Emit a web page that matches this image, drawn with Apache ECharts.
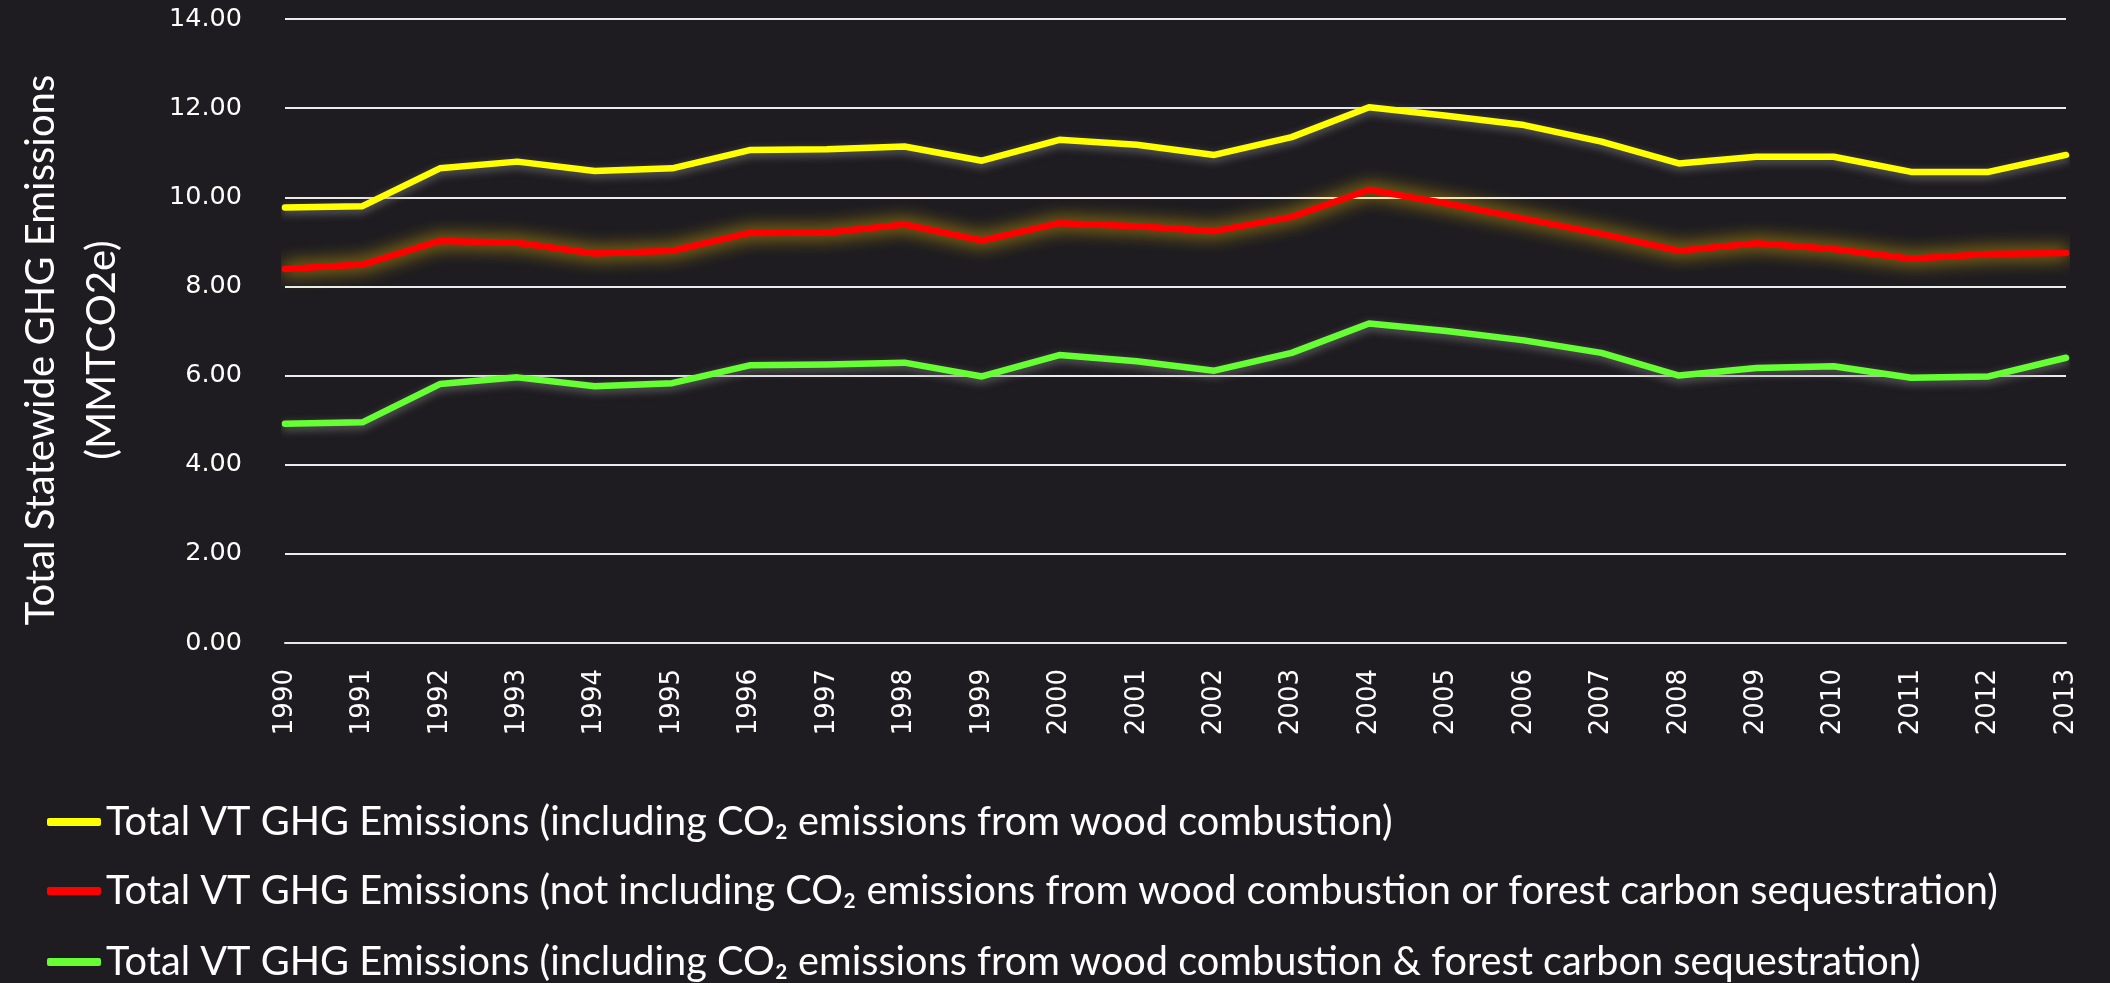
<!DOCTYPE html>
<html>
<head>
<meta charset="utf-8">
<script src="https://cdn.jsdelivr.net/npm/echarts@6/dist/echarts.min.js"></script>
<style>
html,body{margin:0;padding:0;background:#1e1c20;}
#chart{width:2110px;height:983px;}
</style>
</head>
<body>
<div id="chart"></div>
<script>
const years = ['1990','1991','1992','1993','1994','1995','1996','1997','1998','1999','2000','2001','2002','2003','2004','2005','2006','2007','2008','2009','2010','2011','2012','2013'];
const seriesNames = [
  'Total VT GHG Emissions (including CO₂ emissions from wood combustion)',
  'Total VT GHG Emissions (not including CO₂ emissions from wood combustion or forest carbon sequestration)',
  'Total VT GHG Emissions (including CO₂ emissions from wood combustion & forest carbon sequestration)'
];
const withWood = [9.77, 9.80, 10.65, 10.80, 10.59, 10.65, 11.06, 11.08, 11.14, 10.82, 11.29, 11.18, 10.95, 11.35, 12.02, 11.83, 11.62, 11.25, 10.76, 10.91, 10.91, 10.57, 10.57, 10.95];
const withoutWood = [8.39, 8.49, 9.02, 8.98, 8.74, 8.80, 9.20, 9.21, 9.39, 9.03, 9.42, 9.35, 9.24, 9.56, 10.17, 9.86, 9.52, 9.18, 8.80, 8.97, 8.84, 8.62, 8.73, 8.75];
const withSequestration = [4.92, 4.95, 5.81, 5.96, 5.76, 5.83, 6.23, 6.25, 6.29, 5.98, 6.46, 6.32, 6.11, 6.51, 7.17, 7.00, 6.79, 6.51, 6.00, 6.17, 6.21, 5.95, 5.98, 6.40];
const yAxisTitle = 'Total Statewide GHG Emissions\n(MMTCO2e)';

const chart = echarts.init(document.getElementById('chart'));
const txtFont = 'Lato';
function mkSeries(name, data, color, shadowColor, blur, offY) {
  return {
    name: name, type: 'line', data: data, showSymbol: false, symbol: 'none',
    lineStyle: { color: color, width: 6.5, shadowColor: shadowColor, shadowBlur: blur, shadowOffsetY: offY, cap: 'round', join: 'round' },
    itemStyle: { color: color },
    emphasis: { disabled: true }
  };
}
const legendTops = [802, 871, 942];
const legends = seriesNames.map((n, i) => ({
  orient: 'vertical', left: 47, top: legendTops[i], padding: 0,
  itemWidth: 54, itemHeight: 8, icon: 'roundRect', itemGap: 0,
  textStyle: { color: '#ffffff', fontFamily: txtFont, fontSize: 39.7, lineHeight: 40 },
  data: [n]
}));
chart.setOption({
  backgroundColor: '#1e1c20',
  animation: false,
  grid: { left: 285, right: 44, top: 19, bottom: 340 },
  legend: legends,
  xAxis: {
    type: 'category', data: years, boundaryGap: false,
    axisLine: { show: true, lineStyle: { color: '#e8e8e8', width: 2 } },
    axisTick: { show: false },
    axisLabel: { rotate: 90, color: '#ffffff', fontFamily: 'DejaVu Sans', fontSize: 26, margin: 26, interval: 0 },
    splitLine: { show: false }
  },
  yAxis: {
    type: 'value', min: 0, max: 14, interval: 2,
    name: yAxisTitle, nameLocation: 'middle', nameGap: 152, nameRotate: 90,
    nameTextStyle: { color: '#ffffff', fontFamily: txtFont, fontSize: 40, lineHeight: 61, align: 'center', padding: [0, 38, 0, 0] },
    axisLine: { show: false }, axisTick: { show: false },
    axisLabel: { color: '#ffffff', fontFamily: 'DejaVu Sans', fontSize: 25.5, margin: 43, formatter: v => v.toFixed(2) },
    splitLine: { lineStyle: { color: '#ececec', width: 2 } }
  },
  series: [
    mkSeries(seriesNames[0], withWood, '#ffff00', 'rgba(120,120,120,0.8)', 8, 3),
    mkSeries(seriesNames[1], withoutWood, '#ff0000', 'rgba(255,200,0,1)', 18, 0),
    mkSeries(seriesNames[2], withSequestration, '#66ff33', 'rgba(120,120,120,0.8)', 8, 3)
  ]
});
</script>
</body>
</html>
